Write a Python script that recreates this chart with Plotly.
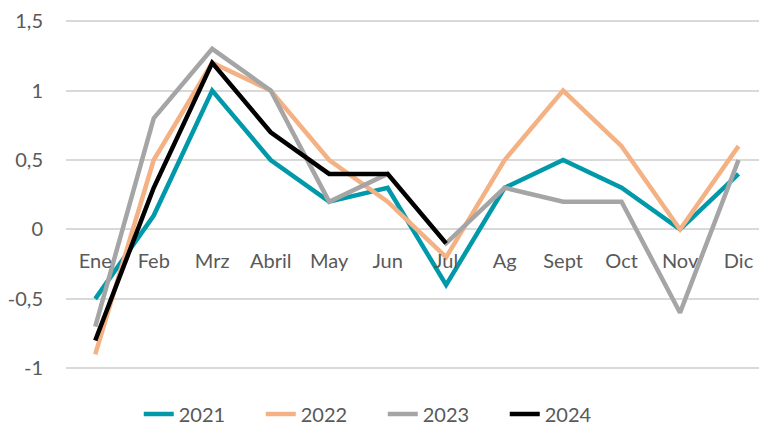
import plotly.graph_objects as go

months = ["Ene", "Feb", "Mrz", "Abril", "May", "Jun", "Jul", "Ag", "Sept", "Oct", "Nov", "Dic"]
v2021 = [-0.5, 0.1, 1.0, 0.5, 0.2, 0.3, -0.4, 0.3, 0.5, 0.3, 0.0, 0.4]
v2022 = [-0.9, 0.5, 1.2, 1.0, 0.5, 0.2, -0.2, 0.5, 1.0, 0.6, 0.0, 0.6]
v2023 = [-0.7, 0.8, 1.3, 1.0, 0.2, 0.4, -0.1, 0.3, 0.2, 0.2, -0.6, 0.5]
v2024 = [-0.8, 0.3, 1.2, 0.7, 0.4, 0.4, -0.1]
series = [("2021", v2021, "#0099AA"), ("2022", v2022, "#F4B183"),
          ("2023", v2023, "#A5A5A5"), ("2024", v2024, "#000000")]
yticks = [-1, -0.5, 0, 0.5, 1, 1.5]
ylabels = ["-1", "-0,5", "0", "0,5", "1", "1,5"]

FONT = "Lato"
fig = go.Figure()
for name, vals, col in series:
    fig.add_trace(go.Scatter(x=months[:len(vals)], y=vals, name=name, mode="lines",
                             line=dict(color=col, width=4.5)))

yr = [-1.12, 1.58]
zero_pos = (0 - yr[0]) / (yr[1] - yr[0])
fig.update_layout(
    width=759, height=426,
    margin=dict(l=66, r=0, t=10, b=41, autoexpand=False),
    paper_bgcolor="white", plot_bgcolor="white",
    font=dict(family=FONT, size=19, color="#595959"),
    showlegend=True,
    legend=dict(orientation="h", x=0.105, xanchor="left", y=-0.025, yanchor="top",
                entrywidth=77, entrywidthmode="pixels",
                font=dict(size=20, color="#595959"), tracegroupgap=0),
    xaxis=dict(type="category", categoryarray=months, range=[-0.5, 11.35],
               showgrid=False, showline=False, zeroline=False, ticks="",
               anchor="free", position=zero_pos, ticklabelstandoff=18, automargin=False,
               tickfont=dict(size=20, color="#595959")),
    yaxis=dict(range=yr, tickvals=yticks, ticktext=ylabels, showgrid=True, gridcolor="#D9D9D9",
               gridwidth=1.5, zeroline=False, showline=False, ticks="", automargin=False,
               ticklabelstandoff=22, tickfont=dict(size=20, color="#595959")),
)
fig.write_html("out.html", config={"displayModeBar": False},
               post_script="document.body.style.margin='0';document.body.style.overflow='hidden';")
